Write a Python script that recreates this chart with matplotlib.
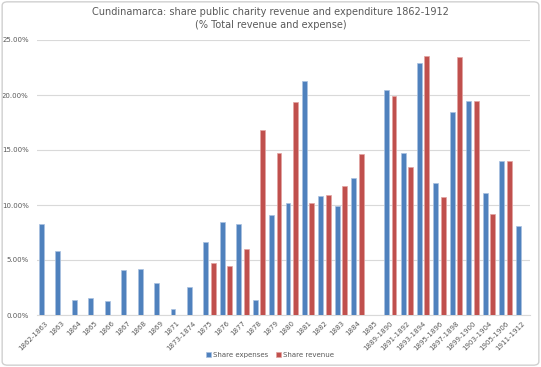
import numpy as np
import matplotlib
matplotlib.use("Agg")
import matplotlib.pyplot as plt
from matplotlib.patches import FancyBboxPatch
from matplotlib.ticker import FuncFormatter

plt.rcParams['font.family'] = ['DejaVu Sans']

# data (% of total)
periods = ["1862-1863", "1863", "1864", "1865", "1866", "1867", "1868", "1869",
           "1871", "1873-1874", "1875", "1876", "1877", "1878", "1879", "1880",
           "1881", "1882", "1883", "1884", "1885", "1889-1890", "1891-1892",
           "1893-1894", "1895-1896", "1897-1898", "1899-1900", "1903-1904",
           "1905-1906", "1911-1912"]
share_expenses = [8.25, 5.83, 1.36, 1.51, 1.30, 4.05, 4.20, 2.93, 0.57, 2.57,
                  6.62, 8.49, 8.31, 1.36, 9.13, 10.16, 21.24, 10.85, 9.92, 12.50,
                  np.nan, 20.50, 14.75, 22.94, 12.00, 18.50, 19.47, 11.10,
                  14.03, 8.13]
share_revenue = [np.nan] * 10 + [4.69, 4.50, 5.96, 16.78, 14.70, 19.40, 10.20,
                                 10.88, 11.70, 14.63, np.nan, 19.90, 13.45,
                                 23.55, 10.70, 23.50, 19.47, 9.19, 14.03, np.nan]

blue = "#4F81BD"
red = "#C0504D"
grey = "#595959"

fig = plt.figure(figsize=(5.41, 3.67), dpi=100)
ax = fig.add_axes([37 / 541, 52 / 367, 493 / 541, 275 / 367])

# light frame around the chart area
fig.patches.append(FancyBboxPatch((0.004, 0.005), 0.992, 0.99, boxstyle="round,pad=0,rounding_size=0.01",
                                  transform=fig.transFigure, fill=False, ec="#D0D0D0", lw=1.0))

x = np.arange(len(periods))
w = 0.30
ax.bar(x - 0.225, share_expenses, width=w, color=blue, edgecolor="#A9C1E0", linewidth=0.5,
       label="Share expenses", zorder=3)
ax.bar(x + 0.225, share_revenue, width=w, color=red, edgecolor="#E3A3A1", linewidth=0.5,
       label="Share revenue", zorder=3)

ax.set_xlim(-0.5, len(periods) - 0.5)
ax.set_ylim(0, 25)
ax.set_yticks(np.arange(0, 26, 5))
ax.yaxis.set_major_formatter(FuncFormatter(lambda v, p: f"{v:.2f}%"))
ax.grid(axis="y", color="#D9D9D9", lw=0.8, zorder=0)
for s in ["top", "right", "left"]:
    ax.spines[s].set_visible(False)
ax.spines["bottom"].set_color("#D9D9D9")
ax.tick_params(axis="both", length=0, colors=grey, labelsize=5)
ax.tick_params(axis="y", pad=6)
ax.set_xticks(x)
ax.set_xticklabels(periods, rotation=45, ha="right", rotation_mode="anchor", fontsize=5)

fig.text(0.5, 0.966, "Cundinamarca: share public charity revenue and expenditure 1862-1912",
         ha="center", va="center", fontsize=7, color=grey)
fig.text(0.5, 0.933, "(% Total revenue and expense)", ha="center", va="center",
         fontsize=7, color=grey)

ax.legend(loc="center", bbox_to_anchor=(270 / 541, 12 / 367), bbox_transform=fig.transFigure,
          ncol=2, frameon=False, fontsize=5, handlelength=0.7, handleheight=0.7,
          handletextpad=0.3, columnspacing=1.2, labelcolor=grey)

fig.savefig("out.png", dpi=100)
